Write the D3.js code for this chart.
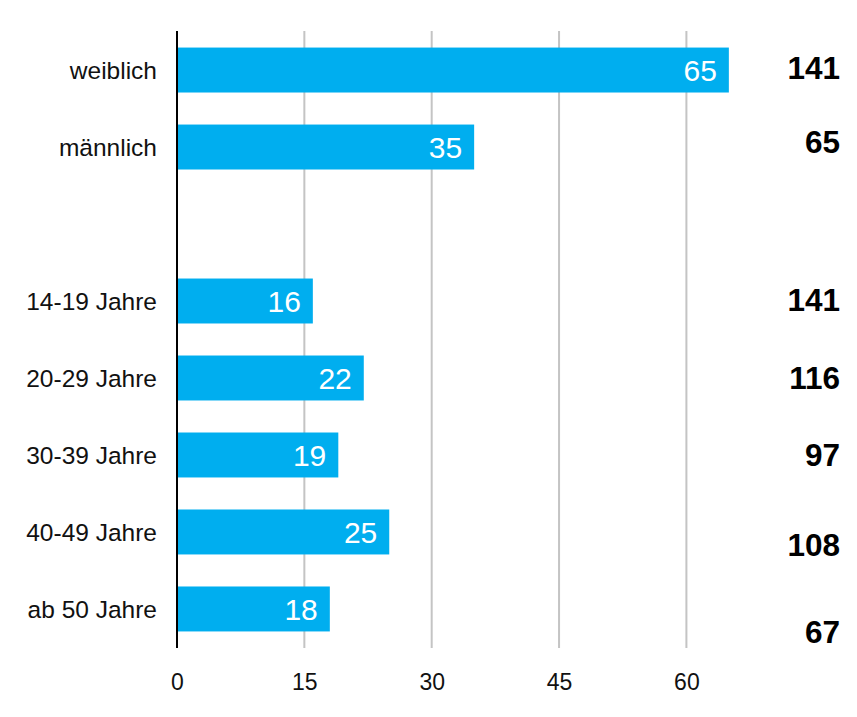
<!DOCTYPE html>
<html>
<head>
<meta charset="utf-8">
<script src="https://cdn.jsdelivr.net/npm/d3@7"></script>
<style>
  html, body { margin: 0; padding: 0; background: #fff; }
  svg { display: block; font-family: "Liberation Sans", Arial, sans-serif; }
</style>
</head>
<body>
<div id="chart"></div>
<script>
// Data.
var categories = ["weiblich", "männlich", "", "14-19 Jahre", "20-29 Jahre", "30-39 Jahre", "40-49 Jahre", "ab 50 Jahre"];
var shares = [65, 35, null, 16, 22, 19, 25, 18];
var totals = ["141", "65", "", "141", "116", "97", "108", "67"];
var tickValues = [0, 15, 30, 45, 60];

var width = 857,
    height = 717;

var margin = {top: 31, right: 127, bottom: 69, left: 177};

// the totals column on the right doesn't sit exactly on the bars
var totalNudge = [-2, -5, 0, -1, 0, 0, 13, 23];

var svg = d3.select("#chart").append("svg")
    .attr("width", width)
    .attr("height", height);

var x = d3.scaleLinear()
    .domain([0, 65])
    .range([margin.left, margin.left + 65 * 8.49]);

var y = d3.scaleBand()
    .domain(d3.range(categories.length))
    .range([margin.top, height - margin.bottom])
    .paddingInner(0.416)
    .paddingOuter(0.215);

// Gridlines
svg.append("g")
    .selectAll("line")
    .data(tickValues.filter(function(d) { return d > 0; }))
    .enter().append("line")
    .attr("x1", function(d) { return x(d); })
    .attr("x2", function(d) { return x(d); })
    .attr("y1", margin.top)
    .attr("y2", height - margin.bottom)
    .style("stroke", "#c4c4c4")
    .style("stroke-width", "2px");

// Bars
var rows = categories.map(function(c, i) {
    return {name: c, value: shares[i], total: totals[i], i: i};
});
var barRows = rows.filter(function(d) { return d.value !== null; });

svg.append("g")
    .selectAll("rect")
    .data(barRows)
    .enter().append("rect")
    .attr("x", x(0))
    .attr("y", function(d) { return y(d.i); })
    .attr("width", function(d) { return x(d.value) - x(0); })
    .attr("height", y.bandwidth())
    .style("fill", "#00aeef");

// Value labels inside the bars
svg.append("g")
    .selectAll("text")
    .data(barRows)
    .enter().append("text")
    .attr("x", function(d) { return x(d.value) - 12; })
    .attr("y", function(d) { return y(d.i) + y.bandwidth() / 2; })
    .attr("dy", "0.36em")
    .attr("text-anchor", "end")
    .style("fill", "#fff")
    .style("font-size", "30px")
    .text(function(d) { return d.value; });

// Category labels
svg.append("g")
    .selectAll("text")
    .data(barRows)
    .enter().append("text")
    .attr("x", 157)
    .attr("y", function(d) { return y(d.i) + y.bandwidth() / 2; })
    .attr("dy", "0.36em")
    .attr("text-anchor", "end")
    .style("fill", "#111")
    .style("font-size", "24.5px")
    .text(function(d) { return d.name; });

// Totals on the right
svg.append("g")
    .selectAll("text")
    .data(barRows)
    .enter().append("text")
    .attr("x", 840)
    .attr("y", function(d) { return y(d.i) + y.bandwidth() / 2 + totalNudge[d.i]; })
    .attr("dy", "0.36em")
    .attr("text-anchor", "end")
    .style("fill", "#000")
    .style("font-size", "31.5px")
    .style("font-weight", "bold")
    .text(function(d) { return d.total; });

// Vertical axis line
svg.append("line")
    .attr("x1", x(0))
    .attr("x2", x(0))
    .attr("y1", margin.top)
    .attr("y2", height - margin.bottom)
    .style("stroke", "#000")
    .style("stroke-width", "2px");

// X axis tick labels
var xAxis = d3.axisBottom(x)
    .tickValues(tickValues)
    .tickSize(0)
    .tickPadding(0);

var gx = svg.append("g")
    .attr("transform", "translate(0," + (height - margin.bottom + 26) + ")")
    .call(xAxis);
gx.select(".domain").remove();
gx.selectAll("text")
    .style("font-family", "Liberation Sans, Arial, sans-serif")
    .style("font-size", "23px")
    .style("fill", "#111");
</script>
</body>
</html>
